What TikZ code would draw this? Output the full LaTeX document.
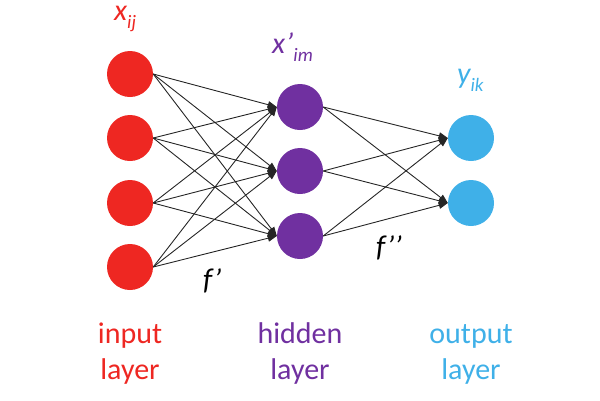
\documentclass[tikz,border=0pt]{standalone}
\usepackage{fontspec}
\setmainfont{Carlito}
\usetikzlibrary{arrows.meta}
\definecolor{inred}{HTML}{EE2722}
\definecolor{hidpurple}{HTML}{7030A0}
\definecolor{outblue}{HTML}{3FB0E8}
\tikzset{
  neuron/.style={circle, minimum size=46pt, inner sep=0pt, draw=none},
  conn/.style={draw=black!85, line width=0.9pt, -{Triangle[length=9pt,width=7pt]}},
  sym/.style={anchor=base west, inner sep=0pt, text height=15pt, font=\fontsize{30}{30}\selectfont\itshape},
  layerlbl/.style={anchor=base, inner sep=0pt, align=center, font=\fontsize{30}{36}\selectfont}
}
\newcommand{\sbs}[1]{\raisebox{-8pt}{\fontsize{19}{19}\selectfont\itshape #1}}
\begin{document}
\begin{tikzpicture}[x=1pt,y=-1pt]
\useasboundingbox (0,0) rectangle (600,400);
% input layer
\node[neuron, fill=inred] (i1) at (130,74) {};
\node[neuron, fill=inred] (i2) at (130,138) {};
\node[neuron, fill=inred] (i3) at (130,203) {};
\node[neuron, fill=inred] (i4) at (130,267) {};
% hidden layer
\node[neuron, fill=hidpurple] (h1) at (300,107) {};
\node[neuron, fill=hidpurple] (h2) at (300,171) {};
\node[neuron, fill=hidpurple] (h3) at (300,236) {};
% output layer
\node[neuron, fill=outblue] (o1) at (471,138) {};
\node[neuron, fill=outblue] (o2) at (471,203) {};
% connections
\foreach \i in {1,2,3,4}{
  \foreach \h in {1,2,3}{
    \draw[conn] (i\i.east) -- (h\h.west);
  }
}
\foreach \h in {1,2,3}{
  \foreach \o in {1,2}{
    \draw[conn] (h\h.east) -- (o\o.west);
  }
}
% symbols
\node[sym, text=inred] (xij) at (114,20) {x\sbs{ij}};
\node[sym, text=hidpurple] (xim) at (272,53) {x’\sbs{im}};
\node[sym, text=outblue] (yik) at (457,83) {y\sbs{ik}};
\node[sym, text=black] (f1) at (203,289) {f’};
\node[sym, text=black] (f2) at (376,256) {f’’};
% layer labels (base = baseline of the last line)
\node[layerlbl, text=inred] (lin) at (130,379) {input\\layer};
\node[layerlbl, text=hidpurple] (lhid) at (300,379) {hidden\\layer};
\node[layerlbl, text=outblue] (lout) at (471,379) {output\\layer};
\end{tikzpicture}
\end{document}
